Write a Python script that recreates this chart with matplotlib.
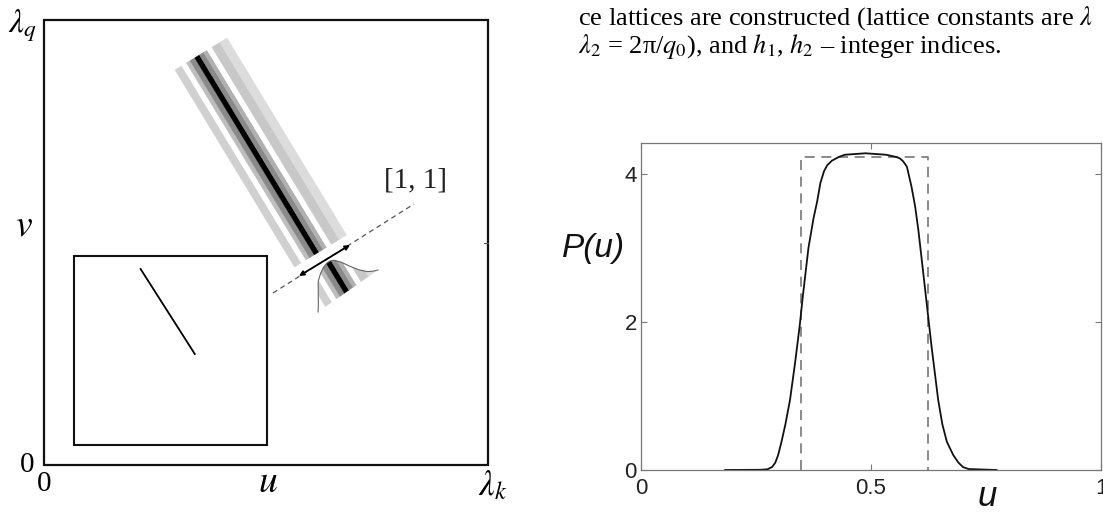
import matplotlib
matplotlib.use('Agg')
import matplotlib.pyplot as plt
from matplotlib.patches import Polygon, Rectangle
import numpy as np

plt.rcParams['mathtext.fontset'] = 'stix'

FIG_W, FIG_H = 1103, 514

# left sketch, in pixel units of the scanned page
outer_box = [44, 20, 488, 465]          # x0, y0, x1, y1
inner_box = [74, 256, 267, 445]
inner_stroke_x = [140.6, 194.8]
inner_stroke_y = [269, 354]
band_corner = [175, 70]                 # upper-left corner of the stripe band
band_across = [52, -32]
band_along = [119.5, 197]
stripe_edges = [0, 0.13, 0.22, 0.29, 0.38, 0.47, 0.55, 0.62, 0.71, 0.86, 1.0]
stripe_greys = ['#d0d0d0', '#ffffff', '#bdbdbd', '#8a8a8a', '#000000',
                '#8a8a8a', '#b0b0b0', '#ffffff', '#c8c8c8', '#dcdcdc']
dir_line_x = [273, 414]
dir_line_y = [293, 204]
arrow_from = (299, 276)
arrow_to = (350, 245)
bell_start = [318, 312]
bell_end = [378, 270]
bell_pos = [0, 0.05, 0.1, 0.16, 0.22, 0.3, 0.38, 0.45, 0.5, 0.56, 0.63, 0.7, 0.78, 0.86, 0.93, 1.0]
bell_height = [0, 5, 11, 18, 25, 30, 33.5, 35, 35, 33, 27, 19, 11, 5, 2, 0]
bell_peak_pos = 0.48

# right plot: distribution P(u)
u_vals = [0.183, 0.26, 0.275, 0.285, 0.292, 0.298, 0.305, 0.314, 0.324, 0.335,
          0.345, 0.352, 0.364, 0.375, 0.383, 0.39, 0.398, 0.405, 0.415, 0.43,
          0.443, 0.488, 0.533, 0.555, 0.563, 0.57, 0.578, 0.588, 0.596, 0.603,
          0.612, 0.622, 0.632, 0.646, 0.655, 0.665, 0.679, 0.69, 0.70, 0.712, 0.773]
p_vals = [0.0, 0.003, 0.01, 0.04, 0.1, 0.2, 0.37, 0.62, 0.95, 1.45,
          1.95, 2.36, 3.0, 3.4, 3.63, 3.88, 4.04, 4.12, 4.18, 4.23,
          4.26, 4.28, 4.26, 4.23, 4.21, 4.17, 4.1, 3.83, 3.56, 3.24,
          2.75, 2.2, 1.65, 0.95, 0.62, 0.38, 0.2, 0.1, 0.04, 0.013, 0.0]
box_u = [0.347, 0.347, 0.624, 0.624]
box_p = [0, 4.23, 4.23, 0]
xticks = [0, 0.5, 1]
xtick_labels = ['0', '0.5', '1']
yticks = [0, 2, 4]
ytick_labels = ['0', '2', '4']

body_line1 = 'ce lattices are constructed (lattice constants are $\\lambda$'
body_line2 = '$\\lambda_2$ = 2π/$q_0$), and $h_1$, $h_2$ – integer indices.'

fig = plt.figure(figsize=(FIG_W / 100, FIG_H / 100), dpi=100)

# ---------- left sketch ----------
ax0 = fig.add_axes([0, 0, 550 / FIG_W, 1])
ax0.set_xlim(0, 550)
ax0.set_ylim(FIG_H, 0)
ax0.axis('off')

ax0.add_patch(Rectangle((outer_box[0], outer_box[1]), outer_box[2] - outer_box[0],
                        outer_box[3] - outer_box[1], fill=False, lw=1.6, ec='#111111'))
ax0.add_patch(Rectangle((inner_box[0], inner_box[1]), inner_box[2] - inner_box[0],
                        inner_box[3] - inner_box[1], fill=False, lw=1.5, ec='#111111'))
ax0.plot(inner_stroke_x, inner_stroke_y, color='k', lw=1.3)
ax0.plot([outer_box[2] - 4, outer_box[2]], [243, 243], color='#555555', lw=0.8)

c0 = np.array(band_corner, float)
wv = np.array(band_across, float)
lv = np.array(band_along, float)
for a, b, col in zip(stripe_edges[:-1], stripe_edges[1:], stripe_greys):
    pts = [c0 + a * wv, c0 + b * wv, c0 + b * wv + lv, c0 + a * wv + lv]
    ax0.add_patch(Polygon(pts, closed=True, fc=col, ec=col, lw=0.3))

ax0.plot(dir_line_x, dir_line_y, color='#555555', lw=0.9, dashes=(4, 3))
ax0.annotate('', xy=arrow_to, xytext=arrow_from,
             arrowprops=dict(arrowstyle='<|-|>', lw=1.3, color='k',
                             mutation_scale=7, shrinkA=0, shrinkB=0))

# cross-section bell under the band
b0 = np.array(bell_start, float)
bv = np.array(bell_end, float) - b0
up = -lv / np.linalg.norm(lv)
s = np.array(bell_pos)
h = np.array(bell_height)
curve = b0 + s[:, None] * bv + h[:, None] * up
bell_patch = Polygon(curve, closed=True, fc='none', ec='none')
ax0.add_patch(bell_patch)
mid = b0 + bell_peak_pos * bv
q0 = mid - 0.425 * wv
for a, b, col in zip(stripe_edges[:-1], stripe_edges[1:], stripe_greys):
    pts = [q0 + a * wv + 0.1 * lv, q0 + b * wv + 0.1 * lv,
           q0 + b * wv - 0.3 * lv, q0 + a * wv - 0.3 * lv]
    p = Polygon(pts, closed=True, fc=col, ec=col, lw=0.3)
    ax0.add_patch(p)
    p.set_clip_path(bell_patch)
ax0.plot(curve[:, 0], curve[:, 1], color='#666666', lw=0.8)

ax0.text(416, 180, '[1, 1]', fontsize=21, family='Liberation Serif',
         ha='center', va='center', color='#222222')
ax0.text(23, 26, '$\\lambda_q$', fontsize=24, ha='center', va='center')
ax0.text(24, 226, '$v$', fontsize=27, ha='center', va='center')
ax0.text(27, 465, '0', fontsize=21, family='Liberation Serif', ha='center', va='center')
ax0.text(44, 484, '0', fontsize=21, family='Liberation Serif', ha='center', va='center')
ax0.text(268, 482, '$u$', fontsize=27, ha='center', va='center')
ax0.text(493, 485, '$\\lambda_k$', fontsize=25, ha='center', va='center')

# ---------- text fragment ----------
fig.text(578 / FIG_W, 1 - 25 / FIG_H, body_line1, fontsize=19,
         family='Liberation Serif', va='baseline', ha='left')
fig.text(578 / FIG_W, 1 - 53 / FIG_H, body_line2, fontsize=19,
         family='Liberation Serif', va='baseline', ha='left')

# ---------- right plot ----------
ax1 = fig.add_axes([641 / FIG_W, (FIG_H - 470) / FIG_H, 460 / FIG_W, 327 / FIG_H])
ax1.plot(box_u, box_p, color='#777777', lw=1.2, dashes=(6, 4))
ax1.plot(u_vals, p_vals, color='#111111', lw=1.3)
ax1.set_xlim(0, 1)
ax1.set_ylim(0, 327 / 74)
ax1.set_xticks(xticks)
ax1.set_xticklabels(xtick_labels, fontsize=16, family='Liberation Sans')
ax1.set_yticks(yticks)
ax1.set_yticklabels(ytick_labels, fontsize=16, family='Liberation Sans')
for sp in ax1.spines.values():
    sp.set_color('#777777')
    sp.set_linewidth(0.9)
ax1.tick_params(direction='in', length=4, color='#777777', top=True, right=True,
                labelcolor='#222222')
ax1.tick_params(axis='x', pad=6)
ax1.tick_params(axis='y', pad=3)

fig.text(594 / FIG_W, 1 - 248 / FIG_H, 'P(u)', fontsize=24, style='italic',
         family='Liberation Sans', ha='center', va='center', color='#111111')
fig.text(987 / FIG_W, 1 - 497 / FIG_H, 'u', fontsize=25, style='italic',
         family='Liberation Sans', ha='center', va='center', color='#111111')

fig.savefig('out.png', dpi=100)
